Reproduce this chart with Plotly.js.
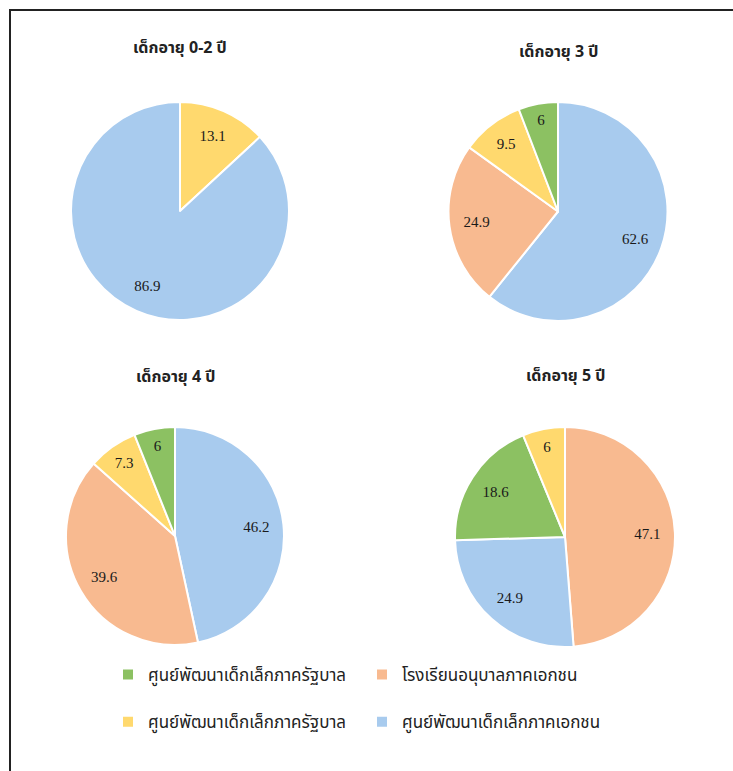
<!DOCTYPE html>
<html>
<head>
<meta charset="utf-8">
<script src="https://cdn.plot.ly/plotly-3.0.1.min.js"></script>
<style>html,body{margin:0;padding:0;background:#fff;}</style>
</head>
<body>
<div id="chart" style="width:733px;height:771px;"></div>
<script>
// ---- data ----
const categories = [
  'ศูนย์พัฒนาเด็กเล็กภาครัฐบาล',
  'โรงเรียนอนุบาลภาคเอกชน',
  'ศูนย์พัฒนาเด็กเล็กภาครัฐบาล',
  'ศูนย์พัฒนาเด็กเล็กภาคเอกชน'
];
const pieTitles = ['เด็กอายุ 0-2 ปี', 'เด็กอายุ 3 ปี', 'เด็กอายุ 4 ปี', 'เด็กอายุ 5 ปี'];

// slice order (index into categories, clockwise from 12 o'clock) and values
const order02 = [0, 1, 2, 3];
const values02 = [0, 0, 13.1, 86.9];
const order3 = [3, 1, 2, 0];
const values3 = [62.6, 24.9, 9.5, 6];
const order4 = [3, 1, 2, 0];
const values4 = [46.2, 39.6, 7.3, 6];
const order5 = [1, 3, 0, 2];
const values5 = [47.1, 24.9, 18.6, 6];

// ---- styling ----
const colors = ['#8CC162', '#F8BA90', '#FFD96E', '#A8CBEE'];
const W = 733, H = 771;
const thaiFont = '"Noto Sans Thai", "Tahoma", "DejaVu Sans", sans-serif';
const numFont = '"Liberation Serif", "DejaVu Serif", serif';

// unique legend keys (two categories share the same text)
const keys = categories.map((c, i) => c + '\u200b'.repeat(i) + '<br>\u00a0');

function dom(cx, cy, r) {
  return {x: [(cx - r) / W, (cx + r) / W], y: [1 - (cy + r) / H, 1 - (cy - r) / H]};
}
const geo = [
  {cx: 180, cy: 211, r: 109},
  {cx: 558, cy: 211.5, r: 109.5},
  {cx: 175, cy: 536, r: 109},
  {cx: 565, cy: 537, r: 110}
];
const titlePos = [[180, 48], [558, 52], [175, 377], [565, 376]];

const sets = [[order02, values02], [order3, values3], [order4, values4], [order5, values5]];
const data = [];
// filled slices
sets.forEach(([ord, vals], i) => {
  data.push({
    type: 'pie',
    labels: ord.map(k => keys[k]),
    values: vals,
    textinfo: 'none',
    hoverinfo: 'label+value',
    sort: false,
    direction: 'clockwise',
    rotation: 0,
    marker: {colors: ord.map(k => colors[k]), line: {color: '#ffffff', width: 2}},
    domain: dom(geo[i].cx, geo[i].cy, geo[i].r),
    showlegend: true
  });
});
// value labels (transparent ring overlay so labels sit in the outer part of each slice)
sets.forEach(([ord, vals], i) => {
  data.push({
    type: 'pie',
    labels: ord.map(k => keys[k]),
    values: vals,
    text: vals.map(v => v > 0 ? String(v) : ''),
    textinfo: 'text',
    hoverinfo: 'skip',
    textposition: 'inside',
    insidetextorientation: 'horizontal',
    textfont: {family: numFont, size: 15, color: '#1a1a1a'},
    hole: 0.5,
    sort: false,
    direction: 'clockwise',
    rotation: 0,
    marker: {colors: ord.map(() => 'rgba(0,0,0,0)'), line: {width: 0}},
    domain: dom(geo[i].cx, geo[i].cy, geo[i].r),
    showlegend: false
  });
});

const annotations = pieTitles.map((t, i) => ({
  text: '<b>' + t + '</b>',
  x: titlePos[i][0] / W, y: 1 - titlePos[i][1] / H,
  xref: 'paper', yref: 'paper', xanchor: 'center', yanchor: 'middle',
  showarrow: false,
  font: {family: thaiFont, size: 16, color: '#222'}
}));

const layout = {
  width: W, height: H,
  margin: {l: 0, r: 0, t: 0, b: 0},
  paper_bgcolor: '#ffffff',
  showlegend: true,
  legend: {
    orientation: 'h',
    x: 108 / W, xanchor: 'left',
    y: 1 - 657 / H, yanchor: 'top',
    entrywidth: 209, entrywidthmode: 'pixels',
    valign: 'top',
    traceorder: 'normal',
    font: {family: thaiFont, size: 17, color: '#222'},
    bgcolor: 'rgba(0,0,0,0)'
  },
  annotations: annotations,
  shapes: [{
    type: 'rect', xref: 'paper', yref: 'paper',
    x0: 10 / W, x1: 760 / W, y0: 1 - 800 / H, y1: 1 - 10 / H,
    line: {color: '#222', width: 2}
  }]
};

Plotly.newPlot('chart', data, layout, {displayModeBar: false, staticPlot: true});
</script>
</body>
</html>
